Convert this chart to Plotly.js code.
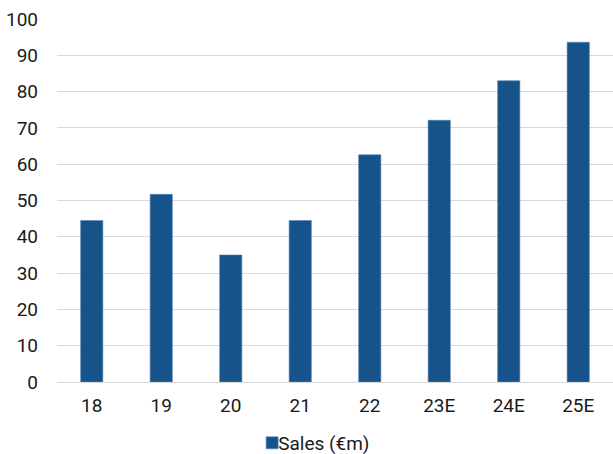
<!DOCTYPE html>
<html>
<head>
<meta charset="utf-8">
<script src="https://cdn.plot.ly/plotly-3.0.1.min.js"></script>
<style>html,body{margin:0;padding:0;background:#fff;}#chart{width:613px;height:454px;}</style>
</head>
<body>
<div id="chart"></div>
<script>
const categories = ["18", "19", "20", "21", "22", "23E", "24E", "25E"];
const sales = [44.5, 51.7, 35.0, 44.5, 62.6, 72.1, 83.0, 93.6];
const seriesName = "Sales (€m)";
const yTicks = [0, 10, 20, 30, 40, 50, 60, 70, 80, 90, 100];

const trace = {
  type: "bar",
  x: categories,
  y: sales,
  name: seriesName,
  marker: {color: "#15538A", line: {color: "#5a86b3", width: 0.6}},
  hoverinfo: "x+y"
};

const layout = {
  width: 613,
  height: 454,
  margin: {l: 57, r: 0, t: 19, b: 72, pad: 0, autoexpand: false},
  paper_bgcolor: "#ffffff",
  plot_bgcolor: "#ffffff",
  font: {family: "Roboto, sans-serif", size: 19, color: "#1a1a1a"},
  bargap: 0.68,
  showlegend: true,
  xaxis: {
    type: "category",
    automargin: false,
    showgrid: false,
    zeroline: false,
    showline: false,
    ticks: "",
    ticklabelstandoff: 10,
    tickfont: {size: 19, color: "#1a1a1a"}
  },
  yaxis: {
    range: [0, 100],
    automargin: false,
    tickvals: yTicks,
    showgrid: true,
    gridcolor: "#d9d9d9",
    gridwidth: 1,
    zeroline: true,
    zerolinecolor: "#d9d9d9",
    zerolinewidth: 1,
    showline: false,
    ticks: "",
    ticklabelstandoff: 18,
    tickfont: {size: 19, color: "#1a1a1a"}
  },
  legend: {
    orientation: "h",
    x: 0.449,
    xanchor: "center",
    xref: "paper",
    y: -0.168,
    yref: "paper",
    yanchor: "middle",
    font: {size: 19, color: "#1a1a1a"},
    bgcolor: "rgba(0,0,0,0)"
  }
};

Plotly.newPlot("chart", [trace], layout, {displayModeBar: false, staticPlot: true}).then(function (gd) {
  // tighten gap between legend swatch and its label, as in the reference
  const sym = gd.querySelector(".legend .legendsymbols");
  if (sym) sym.setAttribute("transform", "translate(14,0)");
});
</script>
</body>
</html>
